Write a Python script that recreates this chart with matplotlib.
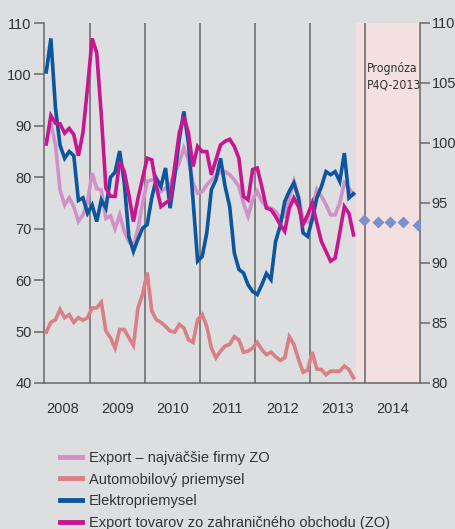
import numpy as np
import matplotlib
matplotlib.use("Agg")
import matplotlib.pyplot as plt
from matplotlib.lines import Line2D

# monthly data, Mar 2008 .. Oct 2013 (month index from Jan 2008 = 0)
first_month, last_month = 2, 69

export_firms = [87.0, 90.5, 86.3, 77.5, 74.6, 76.0, 74.3, 71.4, 72.7, 75.3,
                80.8, 77.8, 77.5, 72.0, 72.5, 70.0, 72.7, 69.5, 67.5, 66.5,
                70.0, 75.0, 79.2, 79.5, 79.5, 77.2, 77.9, 78.5, 80.8, 82.8,
                85.7, 83.4, 78.9, 76.9, 77.2, 78.5, 79.5, 80.2, 81.1, 81.1,
                80.5, 79.5, 78.2, 75.0, 72.4, 75.6, 77.3, 75.3, 74.3, 74.0,
                73.4, 72.1, 72.4, 76.0, 79.2, 76.3, 71.8, 71.4, 74.0, 77.6,
                76.3, 74.7, 72.7, 72.7, 75.0, 78.9, 77.9, 76.6]
automotive = [49.9, 51.8, 52.3, 54.3, 52.7, 53.3, 51.8, 52.7, 52.2, 52.7,
              54.6, 54.6, 55.7, 50.1, 48.8, 46.8, 50.4, 50.4, 48.8, 47.3,
              54.6, 57.2, 61.5, 54.0, 52.3, 51.8, 51.0, 50.1, 49.9, 51.4,
              50.7, 48.4, 47.9, 52.3, 53.3, 51.0, 46.8, 44.9, 46.2, 47.2,
              47.5, 49.0, 48.4, 46.0, 46.2, 46.8, 47.9, 46.5, 45.5, 46.0,
              45.1, 44.4, 44.9, 49.0, 47.5, 44.6, 42.1, 42.5, 46.0, 42.7,
              42.6, 41.6, 42.3, 42.3, 42.3, 43.3, 42.6, 41.0]
electro = [100.5, 107.0, 93.5, 86.2, 83.7, 85.0, 84.2, 75.5, 76.0, 73.0,
           74.6, 71.4, 75.6, 74.0, 80.0, 81.0, 85.1, 79.0, 68.5, 65.6,
           68.0, 70.1, 70.8, 76.0, 79.8, 78.2, 81.8, 74.0, 80.2, 87.3,
           92.8, 86.6, 75.6, 63.7, 64.6, 69.2, 77.6, 79.5, 83.7, 78.2,
           74.3, 65.3, 62.1, 61.4, 59.1, 57.8, 57.2, 59.1, 61.3, 60.1,
           67.5, 70.5, 75.3, 77.3, 78.9, 76.0, 69.2, 68.5, 71.8, 76.0,
           78.2, 81.1, 80.5, 81.1, 79.2, 84.7, 76.0, 76.8]
export_total = [86.5, 92.0, 90.5, 90.4, 88.6, 89.5, 88.3, 84.2, 88.7, 97.5,
                107.0, 104.2, 92.1, 77.9, 76.3, 76.3, 83.1, 81.1, 76.6, 71.4,
                75.9, 79.8, 83.7, 83.4, 78.2, 74.3, 75.0, 75.6, 82.1, 88.6,
                91.8, 88.6, 82.1, 86.0, 85.0, 85.0, 80.5, 83.4, 86.3, 87.0,
                87.4, 86.0, 83.7, 76.3, 75.6, 81.5, 81.8, 78.2, 74.0, 73.7,
                72.4, 70.8, 69.5, 74.0, 76.0, 74.3, 70.8, 72.7, 75.0, 71.1,
                67.5, 65.6, 63.7, 64.3, 69.2, 74.3, 73.0, 68.8]

# forecast (right axis)
forecast_x = [71.8, 74.9, 77.5, 80.4, 83.5]
forecast_vals = [93.6, 93.4, 93.4, 93.4, 93.2]

years = ["2008", "2009", "2010", "2011", "2012", "2013", "2014"]
labels = ["Export – najväčšie firmy ZO", "Automobilový priemysel",
          "Elektropriemysel", "Export tovarov zo zahraničného obchodu (ZO)"]
colors = ["#D291C6", "#DA7F86", "#0B569E", "#C8168E"]

bg = "#DDDEE0"
grey = "#666666"
txt = "#333333"
plt.rcParams["font.family"] = ["Liberation Sans", "DejaVu Sans"]

months = np.arange(first_month, last_month + 1) + 0.5

fig = plt.figure(figsize=(4.55, 5.29), dpi=100, facecolor=bg)
ax = fig.add_axes([44 / 455, 1 - 383 / 529, 376 / 455, 360 / 529])
ax.set_facecolor(bg)

ax.axvspan(last_month + 1, 84, color="#F4E0E0", lw=0, zorder=0)
for k in range(1, 7):
    ax.axvline(12 * k, color=grey, lw=1.1, zorder=1)

for series, c in zip([export_firms, automotive, electro, export_total], colors):
    ax.plot(months, series, color=c, lw=2.6, solid_joinstyle="miter", zorder=3)

ax.set_xlim(first_month, 84)
ax.set_ylim(40, 110)
ax.set_yticks(range(40, 111, 10))
ax.set_xticks([12 * k + 6 for k in range(7)])
ax.set_xticklabels(years)
ax.tick_params(axis="x", length=0, pad=14, labelsize=10.5, colors=txt)
ax.tick_params(axis="y", length=7, width=1.1, color=grey, labelsize=10.5,
               labelcolor=txt, pad=2)
for s in ["left", "right", "bottom"]:
    ax.spines[s].set_color(grey)
    ax.spines[s].set_linewidth(1.1)
ax.spines["top"].set_visible(False)

ax2 = ax.twinx()
ax2.set_ylim(80, 110)
ax2.set_yticks(range(80, 111, 5))
ax2.tick_params(axis="y", length=7, width=1.1, color=grey, labelsize=10.5,
                labelcolor=txt, pad=1.5)
for s in ["left", "right", "bottom", "top"]:
    ax2.spines[s].set_visible(False)
ax2.plot(forecast_x, forecast_vals, ls="none", marker="D", ms=6.5,
         color="#7A92CB", mec="none", zorder=4)

ax.text(72.4, 102.4, "Prognóza\nP4Q-2013", fontsize=8.8, color=txt, va="top",
        ha="left", family=["Liberation Sans Narrow", "DejaVu Sans"],
        fontstretch="condensed", linespacing=1.35)

handles = [Line2D([], [], color=c, lw=3.5) for c in colors]
fig.legend(handles, labels, loc="upper left",
           bbox_to_anchor=(60 / 455, 1 - 451 / 529), frameon=False,
           fontsize=10.5, handlelength=1.5, handletextpad=0.5,
           labelspacing=0.52, borderpad=0, borderaxespad=0, labelcolor=txt)

fig.savefig("out.png", dpi=100, facecolor=bg)
